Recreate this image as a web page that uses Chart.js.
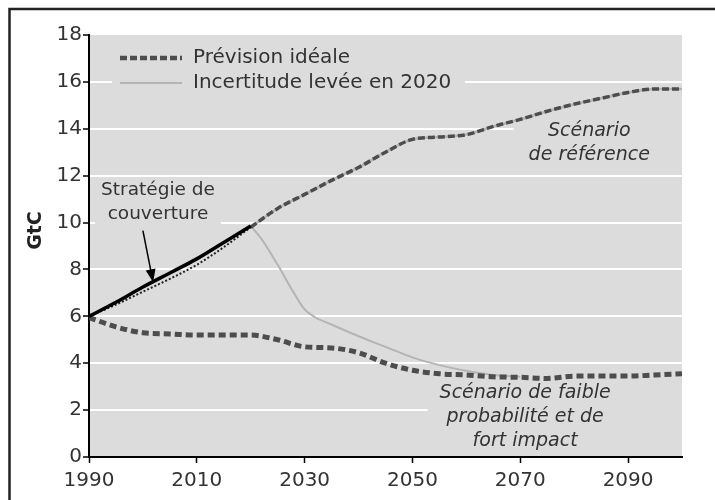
<!DOCTYPE html>
<html>
<head>
<meta charset="utf-8">
<script src="https://cdn.jsdelivr.net/npm/chart.js@4/dist/chart.umd.min.js"></script>
<style>
  html, body { margin: 0; padding: 0; background: #fff; }
</style>
</head>
<body>
<canvas id="gtcChart" width="715" height="500"></canvas>
<script>
// Emissions trajectories (GtC)
const years = [1990, 1995, 2000, 2005, 2010, 2015, 2020, 2025, 2030, 2035, 2040, 2045,
               2050, 2055, 2060, 2065, 2070, 2075, 2080, 2085, 2090, 2095, 2100];
const refScenario = [6.0, 6.5, 7.05, 7.6, 8.2, 8.95, 9.8, 10.6, 11.2, 11.8, 12.35, 13.0,
                     13.55, 13.65, 13.75, 14.1, 14.4, 14.75, 15.05, 15.3, 15.55, 15.7, 15.7];
const lowScenario = [5.95, 5.55, 5.3, 5.25, 5.2, 5.2, 5.2, 5.0, 4.7, 4.65, 4.45, 4.0,
                     3.7, 3.55, 3.5, 3.42, 3.4, 3.35, 3.45, 3.45, 3.45, 3.5, 3.55];

// Hedging strategy until 2020
const hedgeYears = [1990, 1995, 2000, 2005, 2010, 2015, 2020];
const hedgeValues = [6.0, 6.6, 7.25, 7.85, 8.45, 9.15, 9.85];

// Uncertainty resolved in 2020, low-probability branch
const resolvedYears = [2020, 2022, 2025, 2028, 2030, 2032, 2035, 2040, 2045, 2050, 2055, 2060, 2065, 2070];
const resolvedValues = [9.85, 9.3, 8.2, 7.0, 6.3, 5.95, 5.65, 5.15, 4.7, 4.25, 3.92, 3.68, 3.5, 3.42];

const xTicks = [1990, 2010, 2030, 2050, 2070, 2090];
const yTicks = [0, 2, 4, 6, 8, 10, 12, 14, 16, 18];

const pts = (xs, ys) => xs.map((x, i) => ({ x: x, y: ys[i] }));
const FONT = "'DejaVu Sans', sans-serif";
const TEXT = '#333';

// annotation texts, placed in data units
const notes = [
    { lines: ['Stratégie de', 'couverture'], x: 2002.8, y: 11.36, italic: false, size: 18.5, pad: [6, 6, 10, 12] },
    { lines: ['Scénario', 'de référence'], x: 2082.8, y: 13.9, italic: true, size: 19, pad: [15, 40, 12, 10] },
    { lines: ['Scénario de faible', 'probabilité et de', 'fort impact'], x: 2070.9, y: 2.72, italic: true, size: 19, pad: [12, 80, 10, 10] }
];
const arrow = { from: [2000, 9.66], to: [2001.9, 7.45] };
const yTitle = { text: 'GtC', x: 36, y: 9.66 };

const refSolid = years.map((y, i) => y >= 2020 ? refScenario[i] : null);

const datasets = [
    {
        label: 'Stratégie de couverture',
        data: pts(hedgeYears, hedgeValues),
        borderColor: '#000',
        borderWidth: 3.5
    },
    {
        label: 'Prévision idéale',
        legend: true,
        data: pts(years, refScenario),
        borderColor: '#4d4d4d',
        borderWidth: 3.5,
        borderDash: [7, 3],
        segment: {
            borderDash: c => c.p0.parsed.x < 2020 ? [2, 2] : [7, 3],
            borderWidth: c => c.p0.parsed.x < 2020 ? 2 : 3.5,
            borderColor: c => c.p0.parsed.x < 2020 ? '#222' : '#4d4d4d'
        }
    },
    {
        label: 'Prévision idéale (faible)',
        data: pts(years, lowScenario),
        borderColor: '#4d4d4d',
        borderWidth: 5,
        borderDash: [7, 4]
    },
    {
        label: 'Incertitude levée en 2020',
        legend: true,
        data: pts(years, refSolid),
        borderColor: '#b4b4b4',
        borderWidth: 2.5,
        spanGaps: false
    },
    {
        label: 'Incertitude levée (faible)',
        data: pts(resolvedYears, resolvedValues),
        borderColor: '#b4b4b4',
        borderWidth: 2
    }
];
datasets.forEach((d, i) => { d.order = i; d.pointRadius = 0; d.fill = false; d.cubicInterpolationMode = 'monotone'; });

const decor = {
    id: 'decor',
    beforeDraw(chart) {
        const { ctx, chartArea: a } = chart;
        ctx.save();
        ctx.fillStyle = '#fff';
        ctx.fillRect(0, 0, chart.width, chart.height);
        ctx.fillStyle = '#dcdcdc';
        ctx.fillRect(a.left, a.top, a.right - a.left, a.bottom - a.top);
        // outer frame
        ctx.strokeStyle = '#222';
        ctx.lineWidth = 2.5;
        ctx.beginPath();
        ctx.moveTo(9.5, chart.height);
        ctx.lineTo(9.5, 9);
        ctx.lineTo(chart.width, 9);
        ctx.stroke();
        ctx.restore();
    },
    beforeDatasetsDraw(chart) {
        const { ctx, chartArea: a, scales: { x, y } } = chart;
        ctx.save();
        ctx.fillStyle = '#dcdcdc';
        // legend box
        ctx.fillRect(112, 44, 353, 52);
        notes.forEach(n => {
            ctx.font = (n.italic ? 'italic ' : '') + n.size + 'px ' + FONT;
            const w = Math.max(...n.lines.map(l => ctx.measureText(l).width));
            const cx = x.getPixelForValue(n.x);
            const cy = y.getPixelForValue(n.y);
            const left = Math.max(a.left + 2, cx - w / 2 - n.pad[0]);
            const right = Math.min(a.right, cx + w / 2 + n.pad[1]);
            const top = cy - n.pad[2];
            const bottom = Math.min(a.bottom - 2, cy + (n.lines.length - 1) * 24 + n.pad[3]);
            ctx.fillRect(left, top, right - left, bottom - top);
        });
        ctx.restore();
    },
    afterDatasetsDraw(chart) {
        const { ctx, scales: { x, y } } = chart;
        ctx.save();
        ctx.fillStyle = TEXT;
        ctx.textAlign = 'center';
        ctx.textBaseline = 'middle';
        notes.forEach(n => {
            ctx.font = (n.italic ? 'italic ' : '') + n.size + 'px ' + FONT;
            const cx = x.getPixelForValue(n.x);
            const cy = y.getPixelForValue(n.y);
            n.lines.forEach((l, i) => ctx.fillText(l, cx, cy + i * 24));
        });

        // axis title
        ctx.save();
        ctx.translate(yTitle.x, y.getPixelForValue(yTitle.y));
        ctx.rotate(-Math.PI / 2);
        ctx.font = 'bold 19px ' + FONT;
        ctx.fillStyle = '#222';
        ctx.fillText(yTitle.text, 0, 0);
        ctx.restore();

        // arrow to the hedging line
        const x0 = x.getPixelForValue(arrow.from[0]), y0 = y.getPixelForValue(arrow.from[1]);
        const x1 = x.getPixelForValue(arrow.to[0]), y1 = y.getPixelForValue(arrow.to[1]);
        const ang = Math.atan2(y1 - y0, x1 - x0);
        ctx.strokeStyle = '#000';
        ctx.fillStyle = '#000';
        ctx.lineWidth = 1.5;
        ctx.beginPath();
        ctx.moveTo(x0, y0);
        ctx.lineTo(x1 - 10 * Math.cos(ang), y1 - 10 * Math.sin(ang));
        ctx.stroke();
        ctx.beginPath();
        ctx.moveTo(x1, y1);
        ctx.lineTo(x1 - 13 * Math.cos(ang) + 5 * Math.sin(ang), y1 - 13 * Math.sin(ang) - 5 * Math.cos(ang));
        ctx.lineTo(x1 - 13 * Math.cos(ang) - 5 * Math.sin(ang), y1 - 13 * Math.sin(ang) + 5 * Math.cos(ang));
        ctx.closePath();
        ctx.fill();

        // legend inside the plot
        const items = chart.data.datasets.filter(d => d.legend);
        ctx.textAlign = 'left';
        ctx.font = '20px ' + FONT;
        items.forEach((d, i) => {
            const ly = 58 + i * 25;
            ctx.strokeStyle = d.borderColor;
            ctx.lineWidth = i === 0 ? 4.5 : 2;
            ctx.setLineDash(i === 0 ? [7, 3] : []);
            ctx.beginPath();
            ctx.moveTo(120, ly);
            ctx.lineTo(182, ly);
            ctx.stroke();
            ctx.setLineDash([]);
            ctx.fillStyle = TEXT;
            ctx.fillText(d.label, 193, ly);
        });
        ctx.restore();
    }
};

const gtcChart = new Chart(document.getElementById('gtcChart'), {
    type: 'line',
    data: { datasets: datasets },
    options: {
        responsive: false,
        animation: false,
        devicePixelRatio: 1,
        layout: { padding: { top: 35, right: 33, left: 0, bottom: 0 } },
        plugins: { legend: { display: false }, tooltip: { enabled: false } },
        scales: {
            x: {
                type: 'linear',
                min: 1990,
                max: 2100,
                afterFit: s => { s.height = 43; },
                afterBuildTicks: s => { s.ticks = xTicks.map(v => ({ value: v })); },
                grid: { display: true, drawOnChartArea: false, tickColor: '#000', tickLength: 6, tickWidth: 1.5 },
                border: { color: '#000', width: 2 },
                ticks: { color: TEXT, font: { family: FONT, size: 20 }, padding: 6, maxRotation: 0, callback: v => String(v) }
            },
            y: {
                min: 0,
                max: 18,
                afterFit: s => { s.width = 89; },
                afterBuildTicks: s => { s.ticks = yTicks.map(v => ({ value: v })); },
                grid: {
                    color: c => (c.tick && (c.tick.value === 0 || c.tick.value === 18)) ? 'rgba(0,0,0,0)' : '#fff',
                    lineWidth: 2,
                    tickColor: '#000',
                    tickLength: 6,
                    tickWidth: 1.5
                },
                border: { color: '#000', width: 2 },
                ticks: { color: TEXT, font: { family: FONT, size: 20 }, padding: 1 }
            }
        }
    },
    plugins: [decor]
});
</script>
</body>
</html>
